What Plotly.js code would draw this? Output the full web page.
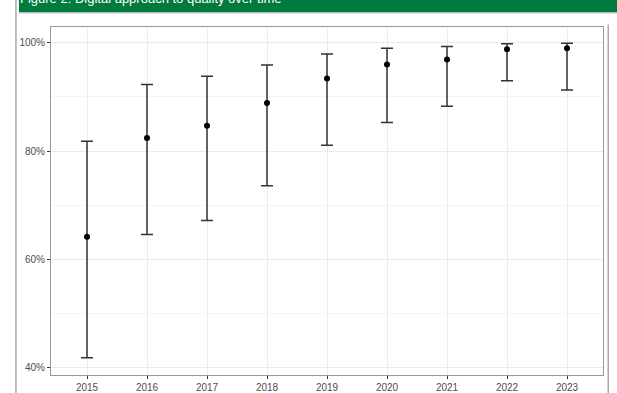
<!DOCTYPE html>
<html><head><meta charset="utf-8">
<script src="https://cdn.plot.ly/plotly-3.0.1.min.js"></script>
<style>html,body{margin:0;padding:0;background:#fff}#chart{width:617px;height:393px}</style>
</head><body><div id="chart"></div>
<script>
const years = ["2015","2016","2017","2018","2019","2020","2021","2022","2023"];
const estimate = [64.2, 82.4, 84.7, 88.9, 93.4, 96.0, 96.9, 98.8, 99.0];
const lower = [41.9, 64.6, 67.2, 73.6, 81.1, 85.3, 88.3, 93.0, 91.3];
const upper = [81.8, 92.3, 93.8, 95.9, 97.9, 99.0, 99.3, 99.8, 99.9];
const yTicks = [40, 60, 80, 100];
const titleText = "Figure 2: Digital approach to quality over time";

const trace = {
  type: "scatter", mode: "markers", x: years, y: estimate,
  marker: {color: "#000", size: 6},
  error_y: {type: "data", symmetric: false,
    array: upper.map((u,i)=>u-estimate[i]),
    arrayminus: lower.map((l,i)=>estimate[i]-l),
    color: "#333", thickness: 1.5, width: 6},
  hoverinfo: "skip"
};
const layout = {
  width: 617, height: 393,
  margin: {l: 51, r: 14, t: 27, b: 18},
  paper_bgcolor: "#fff", plot_bgcolor: "#fff",
  showlegend: false,
  font: {family: "Liberation Sans, Arial, sans-serif", color: "#4d4d4d", size: 10},
  xaxis: {type: "category", range: [-0.6, 8.6], showgrid: true, gridcolor: "#ebebeb", gridwidth: 1,
    ticks: "outside", ticklen: 3, tickcolor: "#333", showline: true, linecolor: "#999", mirror: true,
    linewidth: 1, zeroline: false, tickfont: {size: 10, color: "#4d4d4d"}},
  yaxis: {range: [38.7, 102.9], tickvals: yTicks, ticktext: yTicks.map(v=>v+"%"),
    showgrid: true, gridcolor: "#ebebeb", gridwidth: 1,
    minor: {tickvals: [50, 70, 90], showgrid: true, gridcolor: "#f5f5f5", gridwidth: 1, ticks: ""},
    ticks: "outside", ticklen: 3, tickcolor: "#333", showline: true, linecolor: "#999", mirror: true,
    linewidth: 1, zeroline: false, tickfont: {size: 10, color: "#4d4d4d"}},
  shapes: [
    {type: "rect", xref: "paper", yref: "paper", x0: -0.058, x1: 1.03, y0: 1.043, y1: 1.2,
      fillcolor: "#007a3d", line: {width: 0}, layer: "above"},
    {type: "line", xref: "paper", yref: "paper", x0: -0.058, x1: 1.03, y0: 1.041, y1: 1.041,
      line: {color: "#bbb", width: 1.5}},
    {type: "line", xref: "paper", yref: "paper", x0: -0.0635, x1: -0.0635, y0: -0.06, y1: 1.2,
      line: {color: "#aaa", width: 1.5}},
    {type: "line", xref: "paper", yref: "paper", x0: 1.0095, x1: 1.0095, y0: -0.06, y1: 1.007,
      line: {color: "#aaa", width: 1.5}}
  ],
  annotations: [
    {xref: "paper", yref: "paper", x: -0.06, y: 1.055, xanchor: "left", yanchor: "bottom",
      text: titleText, showarrow: false, font: {size: 13, color: "#fff"}}
  ]
};
Plotly.newPlot("chart", [trace], layout, {displayModeBar: false, staticPlot: true});
</script></body></html>
